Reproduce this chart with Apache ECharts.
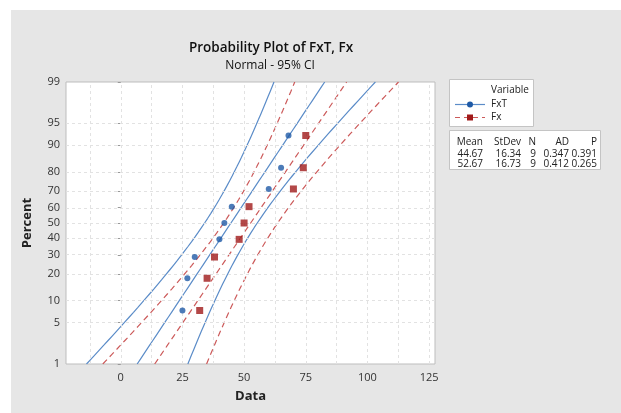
<!DOCTYPE html>
<html lang="en" style="height: 100%">
<head>
  <meta charset="utf-8">
</head>
<body style="height: 100%; margin: 0; background: #fff">
  <div id="container" style="width: 621px; height: 413px"></div>

  <script type="text/javascript" src="https://fastly.jsdelivr.net/npm/echarts@6/dist/echarts.min.js"></script>
  <script type="text/javascript">
    var dom = document.getElementById('container');
    var myChart = echarts.init(dom, null, { renderer: 'canvas' });

// data (sorted)
var fxT = [25, 27, 30, 40, 42, 45, 60, 65, 68];
var fx = [32, 35, 38, 48, 50, 52, 70, 74, 75];
var adValues = ['0.347', '0.412'];
var pValues = ['0.391', '0.265'];

var percentTicks = [1, 5, 10, 20, 30, 40, 50, 60, 70, 80, 90, 95, 99];
var xLabelTicks = [0, 25, 50, 75, 100, 125];
var xGridTicks = [-12.5, 0, 12.5, 25, 37.5, 50, 62.5, 75, 87.5, 100, 112.5, 125];

// inverse normal cdf (Acklam)
function normInv(p) {
  var a = [-39.69683028665376, 220.9460984245205, -275.9285104469687, 138.3577518672690, -30.66479806614716, 2.506628277459239];
  var b = [-54.47609879822406, 161.5858368580409, -155.6989798598866, 66.80131188771972, -13.28068155288572];
  var c = [-0.007784894002430293, -0.3223964580411365, -2.400758277161838, -2.549732539343734, 4.374664141464968, 2.938163982698783];
  var d = [0.007784695709041462, 0.3224671290700398, 2.445134137142996, 3.754408661907416];
  var pl = 0.02425, q, r;
  if (p < pl) {
    q = Math.sqrt(-2 * Math.log(p));
    return (((((c[0] * q + c[1]) * q + c[2]) * q + c[3]) * q + c[4]) * q + c[5]) / ((((d[0] * q + d[1]) * q + d[2]) * q + d[3]) * q + 1);
  }
  if (p > 1 - pl) {
    q = Math.sqrt(-2 * Math.log(1 - p));
    return -(((((c[0] * q + c[1]) * q + c[2]) * q + c[3]) * q + c[4]) * q + c[5]) / ((((d[0] * q + d[1]) * q + d[2]) * q + d[3]) * q + 1);
  }
  q = p - 0.5; r = q * q;
  return (((((a[0] * r + a[1]) * r + a[2]) * r + a[3]) * r + a[4]) * r + a[5]) * q / (((((b[0] * r + b[1]) * r + b[2]) * r + b[3]) * r + b[4]) * r + 1);
}

var zTicks = percentTicks.map(function (p) { return normInv(p / 100); });
var zMin = zTicks[0], zMax = zTicks[zTicks.length - 1];

function stats(arr) {
  var n = arr.length, m = 0, s = 0;
  arr.forEach(function (v) { m += v; });
  m /= n;
  arr.forEach(function (v) { s += (v - m) * (v - m); });
  return { n: n, mean: m, sd: Math.sqrt(s / (n - 1)) };
}

// points at median ranks, fitted line and 95% CI bands
function build(arr) {
  var st = stats(arr);
  var pts = arr.map(function (v, i) {
    return [v, normInv((i + 1 - 0.3) / (st.n + 0.4))];
  });
  var fit = [], lo = [], hi = [];
  for (var k = 0; k <= 60; k++) {
    var z = zMin + (zMax - zMin) * k / 60;
    var x = st.mean + st.sd * z;
    var h = 1.96 * st.sd * Math.sqrt((1 + z * z / 2) / st.n);
    fit.push([x, z]); lo.push([x - h, z]); hi.push([x + h, z]);
  }
  return { st: st, pts: pts, fit: fit, lo: lo, hi: hi };
}

var A = build(fxT);
var B = build(fx);

var blueLine = '#5b8cc8', bluePt = '#1f5aa6';
var redLine = '#cc5a5a', redPt = '#a01a1a';

function lineSeries(data, color, dashed) {
  return {
    type: 'line', data: data, showSymbol: false, symbol: 'none', smooth: false,
    lineStyle: { color: color, width: 1.2, type: dashed ? [6, 4] : 'solid' },
    silent: true, z: 3
  };
}

var gridMarks = [];
xGridTicks.forEach(function (v) { gridMarks.push({ xAxis: v }); });
zTicks.slice(1, -1).forEach(function (v) { gridMarks.push({ yAxis: v }); });

var txt = function (x, y, t, align) {
  return { type: 'text', z: 20, x: x, y: y, style: { text: t, font: '10px "Open Sans"', fill: '#222', textAlign: align || 'left', textVerticalAlign: 'middle' } };
};

var statsText = [];
var cols = [483, 521, 536, 569, 597];
var heads = ['Mean', 'StDev', 'N', 'AD', 'P'];
heads.forEach(function (h, i) { statsText.push(txt(cols[i], 142, h, 'right')); });
[A, B].forEach(function (S, r) {
  var vals = [S.st.mean.toFixed(2), S.st.sd.toFixed(2), String(S.st.n), adValues[r], pValues[r]];
  vals.forEach(function (t, i) { statsText.push(txt(cols[i], 154 + r * 10, t, 'right')); });
});

var option = {
  backgroundColor: '#fff',
  animation: false,
  textStyle: { fontFamily: '"Open Sans", sans-serif' },
  title: [
    { text: 'Probability Plot of FxT, Fx', left: 266, top: 36, textAlign: 'center',
      textStyle: { fontSize: 13.5, fontWeight: 600, color: '#111' } },
    { text: 'Normal - 95% CI', left: 265, top: 55, textAlign: 'center',
      textStyle: { fontSize: 12, fontWeight: 'normal', color: '#111' } }
  ],
  grid: { left: 66, right: 186, top: 82, bottom: 49, show: true, backgroundColor: '#fff', borderColor: '#bdbdbd', borderWidth: 1 },
  xAxis: {
    type: 'value', min: -22.2, max: 127.4,
    name: 'Data', nameLocation: 'middle', nameGap: 26,
    nameTextStyle: { fontSize: 13, fontWeight: 'bold', color: '#222' },
    axisLine: { show: false },
    axisTick: { show: true, customValues: xLabelTicks, length: 3, lineStyle: { color: '#999' } },
    axisLabel: { customValues: xLabelTicks, fontSize: 11, color: '#333', margin: 8 },
    splitLine: { show: false }
  },
  yAxis: {
    type: 'value', min: zMin, max: zMax,
    name: 'Percent', nameLocation: 'middle', nameGap: 32,
    nameTextStyle: { fontSize: 13, fontWeight: 'bold', color: '#222' },
    axisLine: { show: false },
    axisTick: { show: true, customValues: zTicks, length: 3, lineStyle: { color: '#999' } },
    axisLabel: {
      customValues: zTicks, fontSize: 11, color: '#333', margin: 6,
      formatter: function (v) {
        var best = 0;
        zTicks.forEach(function (z, i) { if (Math.abs(z - v) < Math.abs(zTicks[best] - v)) best = i; });
        return percentTicks[best];
      }
    },
    splitLine: { show: false }
  },
  series: [
    {
      type: 'line', data: [], silent: true, z: 1,
      markLine: {
        silent: true, symbol: 'none', label: { show: false }, animation: false,
        lineStyle: { color: '#e2e2e2', type: [3, 3], width: 1 },
        data: gridMarks
      }
    },
    lineSeries(A.lo, blueLine, false),
    lineSeries(A.fit, blueLine, false),
    lineSeries(A.hi, blueLine, false),
    lineSeries(B.lo, redLine, true),
    lineSeries(B.fit, redLine, true),
    lineSeries(B.hi, redLine, true),
    { name: 'FxT', type: 'scatter', data: A.pts, symbol: 'circle', symbolSize: 6, itemStyle: { color: bluePt }, z: 5 },
    { name: 'Fx', type: 'scatter', data: B.pts, symbol: 'rect', symbolSize: 7, itemStyle: { color: redPt }, z: 5 }
  ],
  graphic: [
    { type: 'rect', z: -10, silent: true, shape: { x: 11, y: 10, width: 610, height: 403 }, style: { fill: '#e6e6e6' } },
    { type: 'rect', z: 10, shape: { x: 449.5, y: 79.5, width: 84, height: 47 }, style: { fill: '#fff', stroke: '#c4c4c4', lineWidth: 1 } },
    txt(491, 90, 'Variable'),
    { type: 'line', z: 20, shape: { x1: 455, y1: 104.5, x2: 485, y2: 104.5 }, style: { stroke: blueLine, lineWidth: 1.2 } },
    { type: 'circle', z: 21, shape: { cx: 470, cy: 104.5, r: 3 }, style: { fill: bluePt } },
    txt(491, 104, 'FxT'),
    { type: 'line', z: 20, shape: { x1: 455, y1: 117.5, x2: 485, y2: 117.5 }, style: { stroke: redLine, lineWidth: 1.2, lineDash: [5, 4] } },
    { type: 'rect', z: 21, shape: { x: 467, y: 114.5, width: 6, height: 6 }, style: { fill: redPt } },
    txt(491, 117, 'Fx'),
    { type: 'rect', z: 10, shape: { x: 449.5, y: 130.5, width: 151, height: 39 }, style: { fill: '#fff', stroke: '#c4c4c4', lineWidth: 1 } }
  ].concat(statsText)
};

myChart.setOption(option);
window.addEventListener('resize', myChart.resize);
  </script>
</body>
</html>
